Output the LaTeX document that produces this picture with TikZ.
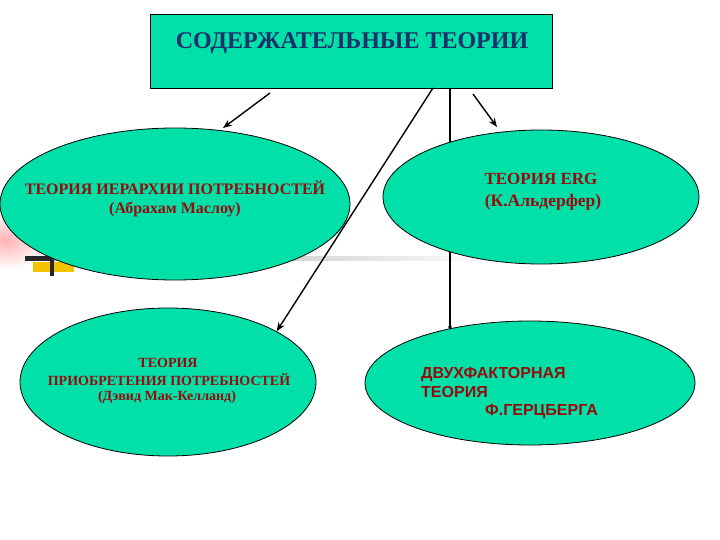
\documentclass[tikz,border=0pt]{standalone}
\usepackage{fontspec}
\setmainfont{Liberation Serif}
\newfontfamily\arialf{Liberation Sans}
\usetikzlibrary{shapes.geometric,arrows.meta,calc}
\definecolor{tealfill}{RGB}{0,224,168}
\definecolor{navytext}{RGB}{28,48,105}
\definecolor{redtext}{RGB}{150,12,12}
\definecolor{goldbar}{RGB}{245,196,0}
\tikzset{
  theory/.style={ellipse, draw=black, line width=0.8pt, fill=tealfill, inner sep=0pt},
  topbox/.style={rectangle, draw=black, line width=0.9pt, fill=tealfill, inner sep=0pt},
  conn/.style={line width=1.4pt, -{Stealth[length=9pt,width=7pt]}},
  rtext/.style={text=redtext, font=\bfseries, inner sep=0pt, anchor=center},
}
\begin{document}
\begin{tikzpicture}[x=1pt,y=-1pt]
\useasboundingbox[fill=white] (0,0) rectangle (720,540);
% background template decorations
\shade[inner color=red!30, outer color=white] (5,240) ellipse [x radius=45pt, y radius=30pt];
\fill[goldbar] (33,262) rectangle (74,272);
\shade[left color=gray!75, right color=white] (40,256.5) rectangle (495,260);
\fill[black!85] (25,256) rectangle (53,260.5);
\fill[black!85] (50,258) rectangle (54,276);
% top box
\node[topbox, minimum width=402pt, minimum height=74pt] (top) at (351,51) {};
\node[text=navytext, font=\bfseries\fontsize{24}{27}\selectfont, inner sep=0pt] (title) at (352,43) {СОДЕРЖАТЕЛЬНЫЕ ТЕОРИИ};
% connector hidden behind ERG ellipse
\coordinate (v0) at (450,88);
\coordinate (v1) at (450,331);
\draw[line width=1.2pt, -{Stealth[length=5pt,width=4pt]}] (v0) -- (v1);
% ellipses
\node[theory, minimum width=350pt, minimum height=152pt] (maslow) at (175,204) {};
\node[theory, minimum width=316pt, minimum height=134pt] (erg) at (541,197) {};
\node[theory, minimum width=296pt, minimum height=148pt] (mccl) at (168,382) {};
\node[theory, minimum width=330pt, minimum height=124pt] (herz) at (530,383) {};
% texts
\node[rtext, font=\bfseries\fontsize{16}{19}\selectfont] (m1) at (175,188) {ТЕОРИЯ ИЕРАРХИИ ПОТРЕБНОСТЕЙ};
\node[rtext, font=\bfseries\fontsize{16}{19}\selectfont] (m2) at (175,210) {(Абрахам Маслоу)};
\node[rtext, font=\bfseries\fontsize{17}{20}\selectfont] (g1) at (541,179) {ТЕОРИЯ ERG};
\node[rtext, font=\bfseries\fontsize{17.5}{20}\selectfont] (g2) at (543,202) {(К.Альдерфер)};
\node[rtext, font=\bfseries\fontsize{14}{16}\selectfont] (c1) at (168,363) {ТЕОРИЯ};
\node[rtext, font=\bfseries\fontsize{14}{16}\selectfont] (c2) at (169,380) {ПРИОБРЕТЕНИЯ ПОТРЕБНОСТЕЙ};
\node[rtext, font=\bfseries\fontsize{14}{16}\selectfont] (c3) at (167,397) {(Дэвид Мак-Келланд)};
\node[rtext, font=\arialf\bfseries\fontsize{16}{18}\selectfont, anchor=base west] (h1) at (421,378) {ДВУХФАКТОРНАЯ};
\node[rtext, font=\arialf\bfseries\fontsize{16}{18}\selectfont, anchor=base west] (h2) at (421,397) {ТЕОРИЯ};
\node[rtext, font=\arialf\bfseries\fontsize{16}{18}\selectfont, anchor=base west] (h3) at (485,415) {Ф.ГЕРЦБЕРГА};
% connectors drawn on top
\coordinate (a1s) at (270,93);
\coordinate (a1e) at (223,128);
\draw[conn] (a1s) -- (a1e);
\coordinate (a2s) at (433,88);
\draw[conn] (a2s) -- (mccl.25);
\coordinate (a4s) at (473,94);
\coordinate (a4e) at (497,127);
\draw[conn] (a4s) -- (a4e);
\end{tikzpicture}
\end{document}
